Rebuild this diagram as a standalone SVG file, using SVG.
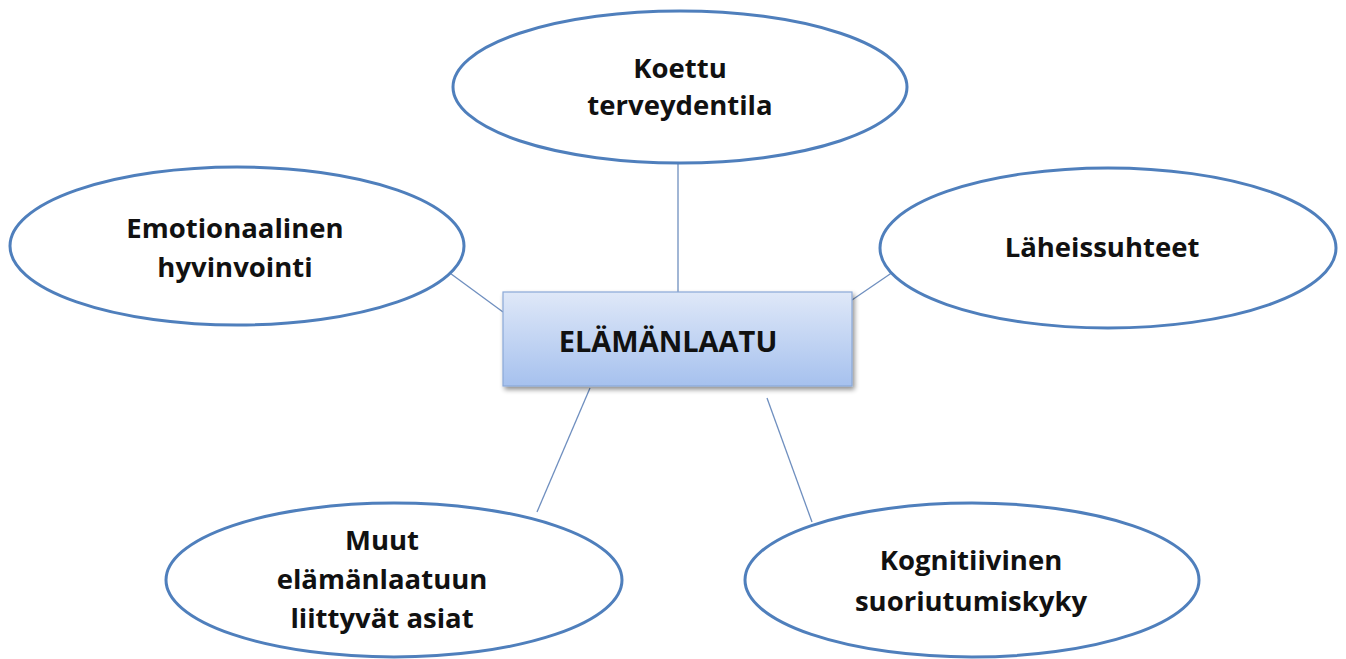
<svg xmlns="http://www.w3.org/2000/svg" width="1346" height="659" viewBox="0 0 1346 659">
<style>
.node ellipse{fill:#ffffff;stroke:#4f7fbc;stroke-width:3}
.lbl{font-family:"Open Sans","Liberation Sans",sans-serif;font-weight:700;font-size:27.5px;fill:#111111;text-anchor:middle}
.conn line{stroke:#6f8fbf;stroke-width:1.3}
</style>
<defs>
<linearGradient id="boxg" x1="0" y1="0" x2="0" y2="1">
<stop offset="0" stop-color="#dfe8f8"/>
<stop offset="1" stop-color="#a6c1ee"/>
</linearGradient>
<filter id="sh" x="-10%" y="-20%" width="125%" height="150%">
<feGaussianBlur in="SourceAlpha" stdDeviation="2.5"/>
<feOffset dx="2" dy="3" result="b"/>
<feComponentTransfer><feFuncA type="linear" slope="0.45"/></feComponentTransfer>
<feMerge><feMergeNode/><feMergeNode in="SourceGraphic"/></feMerge>
</filter>
</defs>
<rect width="1346" height="659" fill="#ffffff"/>
<g id="connectors" class="conn">
<line x1="678" y1="164" x2="678" y2="292"/>
<line x1="443" y1="268" x2="503" y2="312"/>
<line x1="852" y1="300" x2="893" y2="272"/>
<line x1="590" y1="388" x2="537" y2="512"/>
<line x1="767" y1="398" x2="812" y2="522"/>
</g>
<g id="n-top" class="node">
<ellipse cx="680" cy="87" rx="227" ry="76"/>
<text class="lbl" x="680" y="78">Koettu</text>
<text class="lbl" x="680" y="115">terveydentila</text>
</g>
<g id="n-left" class="node">
<ellipse cx="237" cy="246" rx="227" ry="79"/>
<text class="lbl" x="235" y="238">Emotionaalinen</text>
<text class="lbl" x="235" y="277">hyvinvointi</text>
</g>
<g id="n-right" class="node">
<ellipse cx="1108" cy="248" rx="228" ry="80"/>
<text class="lbl" x="1102" y="257">Läheissuhteet</text>
</g>
<g id="n-bl" class="node">
<ellipse cx="394" cy="580" rx="228" ry="77"/>
<text class="lbl" x="382" y="550">Muut</text>
<text class="lbl" x="382" y="589">elämänlaatuun</text>
<text class="lbl" x="382" y="628">liittyvät asiat</text>
</g>
<g id="n-br" class="node">
<ellipse cx="972" cy="580" rx="227" ry="77"/>
<text class="lbl" x="971" y="570">Kognitiivinen</text>
<text class="lbl" x="971" y="611">suoriutumiskyky</text>
</g>
<g id="n-center">
<rect x="503" y="292" width="349" height="94" fill="url(#boxg)" stroke="#8aa8d8" stroke-width="1.2" filter="url(#sh)"/>
<text x="668" y="352" font-family="Open Sans, Liberation Sans, sans-serif" font-weight="700" font-size="29" fill="#111111" text-anchor="middle">ELÄMÄNLAATU</text>
</g>
</svg>
